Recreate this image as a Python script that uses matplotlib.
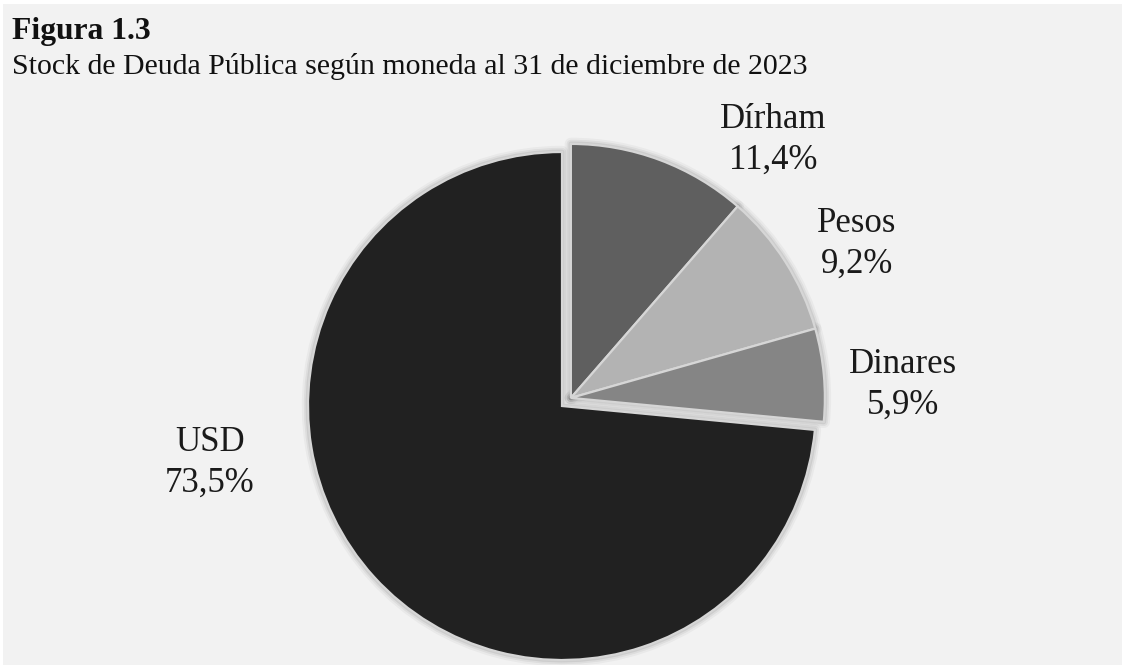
import numpy as np
import matplotlib
matplotlib.use("Agg")
import matplotlib.pyplot as plt
from matplotlib.patches import Rectangle, Wedge

# Debt stock by currency, 31 Dec 2023 (percent of total)
currencies = ["Dírham", "Pesos", "Dinares", "USD"]
shares = [11.4, 9.2, 5.9, 73.5]
colors = ["#5f5f5f", "#b3b3b3", "#858585", "#212121"]

W, H = 1122, 665
plt.rcParams["font.family"] = ["Liberation Serif", "DejaVu Serif"]

fig = plt.figure(figsize=(W / 100, H / 100), dpi=100, facecolor="white")
ax = fig.add_axes([0, 0, 1, 1])
ax.set_axis_off()


def Y(y_px):
    return H - y_px


# panel background
ax.add_patch(Rectangle((3, 0), W - 3, H - 4, facecolor="#f2f2f2",
                       edgecolor="none", zorder=0))

radius = 254
center = np.array([562.0, Y(406)])
wedges, _ = ax.pie(shares, colors=colors, startangle=90, counterclock=False,
                   radius=radius, center=tuple(center),
                   wedgeprops=dict(edgecolor="#d6d6d6", linewidth=1.6))

# pull the three smaller currencies out together along their common bisector
total = sum(shares)
group_span = 360.0 * sum(shares[:3]) / total
mid = np.deg2rad(90.0 - group_span / 2.0)
shift = 12.0 * np.array([np.cos(mid), np.sin(mid)])
for w in wedges[:3]:
    w.set_center(tuple(center + shift))

# soft shadow under every wedge
for w in wedges:
    for lw, a in [(9, 0.035), (6, 0.05), (3.5, 0.07)]:
        sh = Wedge(w.center, w.r, w.theta1, w.theta2, facecolor="none",
                   edgecolor="black", linewidth=lw, alpha=a, zorder=0.5,
                   joinstyle="round")
        ax.add_patch(sh)
for w in wedges:
    w.set_zorder(1)

# category labels
label_pos = [(773, 140), (857, 244), (903, 385), (210, 463)]
for name, v, (x, y) in zip(currencies, shares, label_pos):
    txt = f"{name}\n{v:.1f}".replace(".", ",") + "%"
    ax.text(x, Y(y), txt, ha="center", va="center", fontsize=25,
            color="#1a1a1a", linespacing=1.33, zorder=3)

ax.text(12, Y(32), "Figura 1.3", ha="left", va="center", fontsize=22.8,
        fontweight="bold", color="#111111")
ax.text(12, Y(66), "Stock de Deuda Pública según moneda al 31 de diciembre de 2023",
        ha="left", va="center", fontsize=21.5, color="#111111")

ax.set_xlim(0, W)
ax.set_ylim(0, H)
ax.set_aspect("auto")

fig.savefig("out.png", dpi=100, facecolor="white")
